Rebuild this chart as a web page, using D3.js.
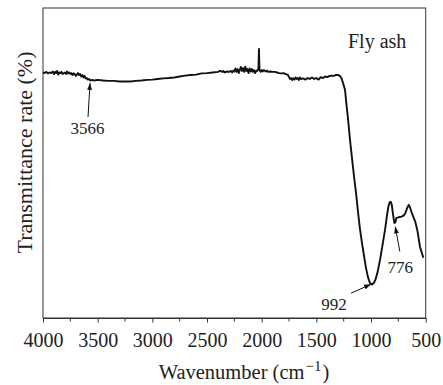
<!DOCTYPE html>
<html>
<head>
<meta charset="utf-8">
<script src="https://cdn.jsdelivr.net/npm/d3@7"></script>
<style>
  body { margin: 0; background: #fff; }
  text { font-family: "Liberation Serif", "Times New Roman", serif; fill: #222; }
</style>
</head>
<body>
<div id="chart"></div>
<script>
// FTIR spectrum of fly ash
var wavenumber = [4000, 3985, 3970, 3955, 3940, 3925, 3910, 3900, 3890, 3880, 3870, 3860, 3850, 3840, 3830, 3820, 3810, 3800, 3790, 3780,
    3770, 3760, 3750, 3740, 3730, 3720, 3710, 3700, 3690, 3680, 3670, 3660, 3650, 3640, 3630, 3620, 3610, 3600, 3590, 3580,
    3566, 3550, 3530, 3500, 3450, 3400, 3350, 3300, 3250, 3200, 3150, 3100, 3050, 3000, 2950, 2900, 2850, 2800, 2750, 2700,
    2650, 2600, 2550, 2500, 2450, 2400, 2380, 2360, 2350, 2340, 2320, 2300, 2280, 2270, 2260, 2250, 2240, 2230, 2220, 2210,
    2200, 2190, 2180, 2170, 2160, 2150, 2140, 2130, 2120, 2110, 2100, 2090, 2080, 2070, 2060, 2050, 2040, 2030, 2025, 2020,
    2010, 2000, 1990, 1980, 1970, 1960, 1950, 1940, 1920, 1900, 1880, 1860, 1840, 1820, 1800, 1780, 1760, 1750, 1740, 1730,
    1720, 1710, 1700, 1690, 1680, 1670, 1660, 1650, 1640, 1620, 1600, 1580, 1560, 1540, 1520, 1500, 1480, 1460, 1440, 1420,
    1400, 1380, 1360, 1340, 1320, 1300, 1290, 1280, 1270, 1256, 1238, 1224, 1211, 1192, 1174, 1156, 1137, 1119, 1101, 1083,
    1064, 1046, 1028, 1010, 992, 975, 960, 940, 918, 895, 872, 855, 842, 830, 820, 810, 802, 790, 785, 776,
    768, 755, 740, 720, 700, 685, 670, 655, 645, 630, 613, 595, 577, 565, 552, 535, 522];

var transmittance = [79.2, 79.0, 79.4, 78.9, 79.2, 79.0, 79.5, 78.7, 79.4, 79.0, 79.7, 78.5, 79.2, 79.0, 79.4, 78.7, 79.0, 79.2, 78.7, 79.5,
    78.9, 79.2, 78.7, 79.0, 78.4, 78.9, 78.7, 78.1, 78.5, 79.0, 78.4, 78.7, 77.9, 78.4, 77.6, 78.1, 77.3, 77.4, 76.9, 77.1,
    76.6, 76.8, 76.6, 76.8, 76.6, 76.5, 76.5, 76.3, 76.3, 76.3, 76.5, 76.6, 76.8, 76.9, 77.1, 77.3, 77.4, 77.6, 77.9, 78.2,
    78.4, 78.5, 78.9, 79.0, 79.2, 79.4, 79.7, 79.4, 79.7, 79.2, 79.5, 79.4, 79.7, 79.2, 79.8, 79.5, 80.5, 79.4, 80.3, 79.0,
    80.0, 81.0, 79.7, 80.6, 79.4, 81.1, 79.7, 80.3, 79.0, 80.5, 79.5, 80.3, 79.4, 80.0, 79.0, 79.8, 79.7, 80.3, 86.8, 80.0,
    79.4, 80.0, 79.5, 80.0, 79.7, 79.5, 79.8, 79.4, 79.5, 79.4, 79.4, 79.2, 79.0, 78.9, 79.0, 78.7, 78.4, 77.7, 77.1, 77.4,
    76.8, 77.3, 76.9, 77.6, 77.1, 77.4, 76.8, 77.6, 77.1, 77.3, 76.9, 77.4, 77.1, 77.6, 77.1, 77.4, 76.9, 77.7, 77.4, 77.9,
    77.7, 78.1, 78.2, 78.1, 78.4, 78.4, 78.2, 77.9, 77.3, 75.8, 73.6, 68.7, 64.5, 57.4, 51.6, 45.8, 40.3, 34.2, 28.7, 24.2,
    20.0, 16.1, 13.2, 11.3, 10.8, 11.3, 12.3, 14.8, 18.7, 23.5, 28.4, 32.9, 35.8, 37.3, 37.5, 36.5, 34.2, 31.3, 30.6, 31.0,
    32.3, 32.4, 32.6, 32.7, 33.1, 33.9, 35.5, 36.5, 35.8, 34.2, 32.6, 31.0, 28.4, 25.8, 22.9, 21.0, 19.4];

var xTicks = [4000, 3500, 3000, 2500, 2000, 1500, 1000, 500];
var peakLabels = ["3566", "992", "776"];
var peakWn = [3570, 1000, 778];
var peakT = [75.8, 10.9, 29.5];

var svgWidth = 443;
var svgHeight = 385;
var mLeft = 43, mRight = 425.7, mTop = 8, mBottom = 318;

var svg = d3.select("#chart")
        .append("svg")
        .attr("width", svgWidth)
        .attr("height", svgHeight);

var xScale = d3.scaleLinear().domain([4000, 500]).range([mLeft, mRight]);
var yScale = d3.scaleLinear().domain([0, 100]).range([mBottom, mTop]);

// arrow head
svg.append("defs").append("marker")
        .attr("id", "arrow")
        .attr("viewBox", "0 0 10 10")
        .attr("refX", 10).attr("refY", 5)
        .attr("markerWidth", 7).attr("markerHeight", 7)
        .attr("markerUnits", "userSpaceOnUse")
        .attr("orient", "auto")
        .append("path")
        .attr("d", "M0,1.5 L10,5 L0,8.5 Z")
        .attr("fill", "#111");

// frame
svg.append("rect")
        .attr("x", mLeft).attr("y", mTop)
        .attr("width", mRight - mLeft).attr("height", mBottom - mTop)
        .attr("fill", "none").attr("stroke", "#333").attr("stroke-width", 1);

// minor ticks
var minor = d3.range(3750, 500, -500);
svg.append("g").selectAll("line").data(minor).enter().append("line")
        .attr("x1", function(d) { return xScale(d); })
        .attr("x2", function(d) { return xScale(d); })
        .attr("y1", mBottom).attr("y2", mBottom + 3.5)
        .attr("stroke", "#333");

var xAxis = d3.axisBottom(xScale).tickValues(xTicks).tickSize(4.5).tickSizeOuter(0).tickPadding(10)
        .tickFormat(d3.format("d"));
var gx = svg.append("g")
        .attr("transform", "translate(0," + mBottom + ")")
        .call(xAxis);
gx.select(".domain").attr("stroke", "#333");
gx.selectAll(".tick line").attr("stroke", "#333");
gx.selectAll(".tick text").attr("font-size", 20).attr("font-family", "Liberation Serif").attr("fill", "#222");

// spectrum
var pts = wavenumber.map(function(d, i) { return [d, transmittance[i]]; });
var line = d3.line()
        .x(function(d) { return xScale(d[0]); })
        .y(function(d) { return yScale(d[1]); });
svg.append("path")
        .datum(pts)
        .attr("d", line)
        .attr("fill", "none")
        .attr("stroke", "#111")
        .attr("stroke-width", 1.9)
        .attr("stroke-linejoin", "round");

// peak annotations: tail offset and label offset from the tip
var tailDx = [-2, -20, 4.5], tailDy = [34, 9, 25];
var textDx = [-2.5, -37, 5], textDy = [51, 26, 46];
peakLabels.forEach(function(lab, i) {
    var tx = xScale(peakWn[i]), ty = yScale(peakT[i]);
    svg.append("line")
            .attr("x1", tx + tailDx[i]).attr("y1", ty + tailDy[i])
            .attr("x2", tx).attr("y2", ty)
            .attr("stroke", "#111").attr("stroke-width", 1)
            .attr("marker-end", "url(#arrow)");
    svg.append("text")
            .attr("x", tx + textDx[i]).attr("y", ty + textDy[i])
            .attr("text-anchor", "middle").attr("font-size", 17)
            .text(lab);
});

svg.append("text").attr("x", 348).attr("y", 47.5).attr("font-size", 20).text("Fly ash");

// axis titles
var xt = svg.append("text").attr("x", 244).attr("y", 379)
        .attr("text-anchor", "middle").attr("font-size", 20.5);
xt.append("tspan").text("Wavenumber (cm");
xt.append("tspan").attr("dx", 1).attr("dy", -8).attr("font-size", 15).text("\u22121");
xt.append("tspan").attr("dx", 1).attr("dy", 8).text(")");

svg.append("text")
        .attr("transform", "translate(32," + 152.5 + ") rotate(-90)")
        .attr("text-anchor", "middle").attr("font-size", 22)
        .text("Transmittance rate (%)");
</script>
</body>
</html>
